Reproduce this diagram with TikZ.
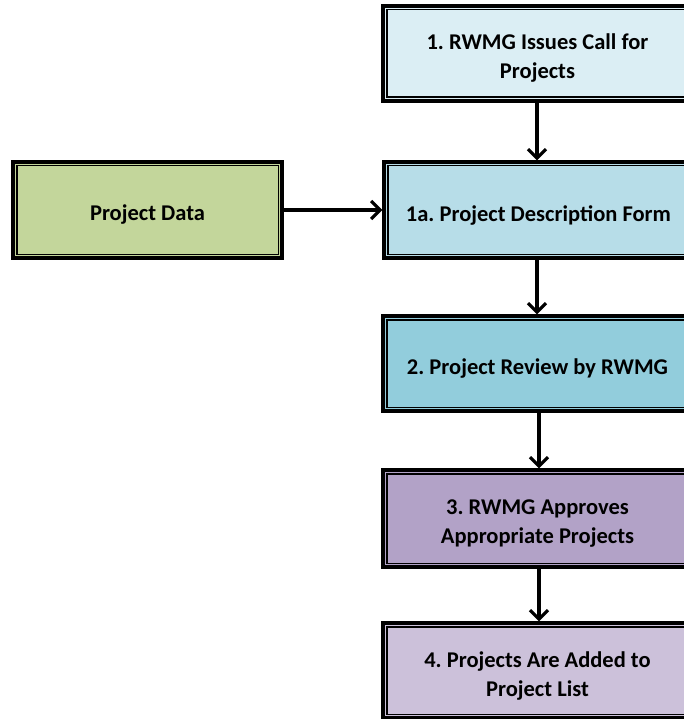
\documentclass[tikz,border=0pt]{standalone}
\usepackage{fontspec}
\setmainfont{Carlito}
\usetikzlibrary{arrows.meta,calc}

\definecolor{callblue}{HTML}{DBEEF4}
\definecolor{formblue}{HTML}{B7DDE8}
\definecolor{reviewblue}{HTML}{92CDDC}
\definecolor{approvepurple}{HTML}{B2A2C7}
\definecolor{listpurple}{HTML}{CCC1DA}
\definecolor{datagreen}{HTML}{C3D69B}

\tikzset{
  x=1pt, y=-1pt,
  stagebox/.style={draw=black, line width=3.2pt, minimum width=309pt,
    minimum height=95pt, inner sep=0pt},
  stagetext/.style={align=center, inner sep=0pt, yshift=-5pt,
    font=\fontsize{22.5}{29}\selectfont\bfseries\frenchspacing},
  inner frame/.style={draw=black, line width=1.2pt},
  flow/.style={draw=black, line width=3.2pt,
    -{Straight Barb[length=9pt,width=18pt,line width=3.2pt]}},
}

\begin{document}
\begin{tikzpicture}
\useasboundingbox (0,0) rectangle (684,719);
\clip (0,0) rectangle (684,719);

\node[stagebox, fill=callblue,
  label={[stagetext]center:1. RWMG Issues Call for\\Projects}] (call) at (537.5,53.5) {};
\node[stagebox, fill=formblue, minimum height=96pt,
  label={[stagetext]center:1a. Project Description Form}] (form) at (538.5,210) {};
\node[stagebox, fill=datagreen, minimum width=269pt, minimum height=96pt,
  label={[stagetext]center:Project Data}] (data) at (147.5,210) {};
\node[stagebox, fill=reviewblue,
  label={[stagetext]center:2. Project Review by RWMG}] (review) at (537.5,363.5) {};
\node[stagebox, fill=approvepurple, minimum height=97pt,
  label={[stagetext]center:3. RWMG Approves\\Appropriate Projects}] (approve) at (537.5,518.5) {};
\node[stagebox, fill=listpurple,
  label={[stagetext]center:4. Projects Are Added to\\Project List}] (list) at (537.5,670.5) {};

% thin inner line of each double frame
\foreach \n in {call,form,data,review,approve,list}{
  \draw[inner frame] ($(\n.north west)+(5.5,5.5)$) rectangle ($(\n.south east)+(-5.5,-5.5)$);
}

\draw[flow] (call.south -| 537,0) -- (form.north -| 537,0);
\draw[flow] (form.south -| 537,0) -- (review.north -| 537,0);
\draw[flow] (review.south -| 539,0) -- (approve.north -| 539,0);
\draw[flow] (approve.south -| 539,0) -- (list.north -| 539,0);
\draw[flow] (data.east) -- (form.west);
\end{tikzpicture}
\end{document}
